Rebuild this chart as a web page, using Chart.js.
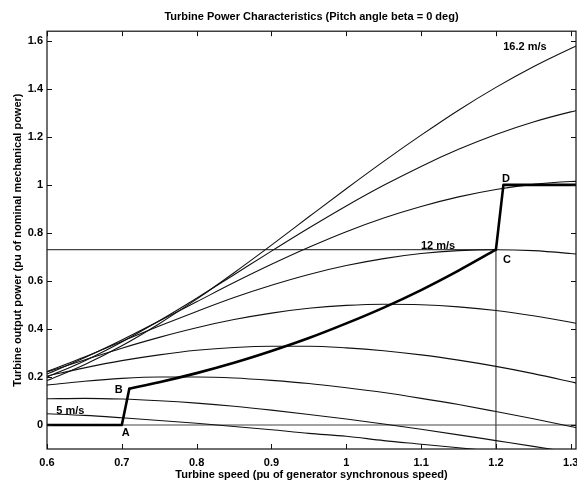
<!DOCTYPE html>
<html>
<head>
<meta charset="utf-8">
<script src="https://cdn.jsdelivr.net/npm/chart.js@4.4.1/dist/chart.umd.min.js"></script>
<style>
html,body{margin:0;padding:0;background:#fff;overflow:hidden}
#wrap{width:577px;height:482px;position:relative}
</style>
</head>
<body>
<div id="wrap"><canvas id="c" width="577" height="482"></canvas></div>
<script>
// ---- data ----
const omega = [0.6, 0.65, 0.7, 0.75, 0.8, 0.85, 0.9, 0.95, 1.0, 1.05, 1.1, 1.15, 1.2, 1.25, 1.3, 1.31];
const p16_2 = [0.185, 0.251, 0.330, 0.422, 0.524, 0.634, 0.749, 0.867, 0.984, 1.098, 1.207, 1.311, 1.406, 1.492, 1.568, 1.582];
const p14_8 = [0.199, 0.267, 0.346, 0.434, 0.528, 0.626, 0.724, 0.820, 0.912, 0.998, 1.077, 1.148, 1.210, 1.262, 1.304, 1.311];
const p13_4 = [0.212, 0.280, 0.354, 0.433, 0.513, 0.593, 0.669, 0.740, 0.805, 0.862, 0.910, 0.950, 0.981, 1.002, 1.014, 1.015];
const p12   = [0.222, 0.283, 0.348, 0.412, 0.473, 0.531, 0.582, 0.627, 0.664, 0.693, 0.714, 0.726, 0.730, 0.726, 0.714, 0.711];
const p10_6 = [0.221, 0.271, 0.320, 0.365, 0.405, 0.439, 0.466, 0.486, 0.498, 0.503, 0.501, 0.492, 0.477, 0.455, 0.428, 0.422];
const p9_2  = [0.204, 0.238, 0.268, 0.292, 0.311, 0.323, 0.328, 0.328, 0.321, 0.309, 0.292, 0.270, 0.244, 0.214, 0.180, 0.173];
const p7_8  = [0.166, 0.182, 0.194, 0.200, 0.200, 0.196, 0.186, 0.173, 0.155, 0.135, 0.111, 0.085, 0.056, 0.026, -0.006, -0.013];
const p6_4  = [0.109, 0.111, 0.108, 0.101, 0.091, 0.078, 0.062, 0.044, 0.025, 0.004, -0.018, -0.041, -0.065, -0.089, -0.114, -0.119];
const p5    = [0.047, 0.040, 0.030, 0.019, 0.007, -0.006, -0.020, -0.035, -0.047, -0.065, -0.080, -0.095, -0.110, -0.125, null, null];

// tracking characteristic A-B-C-D
const trackLowX   = [0.6, 0.7, 0.71];
const trackLowY   = [0, 0, 0.151];
const trackMidX   = [0.71, 0.75, 0.8, 0.85, 0.9, 0.95, 1.0, 1.05, 1.1, 1.15, 1.2];
const trackMidY   = [0.151, 0.178, 0.216, 0.259, 0.308, 0.362, 0.423, 0.489, 0.562, 0.643, 0.73];
const trackHighX  = [1.2, 1.21, 1.31];
const trackHighY  = [0.73, 1.0, 1.0];

// reference lines
const baseLineX = [0.6, 1.2];   const baseLineY = [0.73, 0.73];
const baseVertX = [1.2, 1.2];   const baseVertY = [0.73, -0.1];
const zeroLineX = [0.6, 1.31];  const zeroLineY = [0, 0];

// ticks
const xTicks = [0.6, 0.7, 0.8, 0.9, 1.0, 1.1, 1.2, 1.3];
const xTickLabels = ['0.6', '0.7', '0.8', '0.9', '1', '1.1', '1.2', '1.3'];
const yTicks = [0, 0.2, 0.4, 0.6, 0.8, 1.0, 1.2, 1.4, 1.6];
const yTickLabels = ['0', '0.2', '0.4', '0.6', '0.8', '1', '1.2', '1.4', '1.6'];

// text annotations (data coordinates)
const noteText = ['5 m/s', '12 m/s', '16.2 m/s', 'A', 'B', 'C', 'D'];
const noteX    = [0.6313, 1.1227, 1.2387, 0.7053, 0.696, 1.2147, 1.2133];
const noteY    = [0.058, 0.744, 1.575, -0.033, 0.145, 0.688, 1.024];

const titleText = 'Turbine Power Characteristics (Pitch angle beta = 0 deg)';
const xTitle = 'Turbine speed (pu of generator synchronous speed)';
const yTitle = 'Turbine output power (pu of nominal mechanical power)';

// ---- build ----
function pts(xs, ys) {
  const out = [];
  for (let i = 0; i < xs.length; i++) if (ys[i] !== null) out.push({x: xs[i], y: ys[i]});
  return out;
}
const FONT = "'Liberation Sans', Arial, Helvetica, sans-serif";

const thin = (label, ys) => ({
  label, data: pts(omega, ys), borderColor: '#111', borderWidth: 1.1,
  pointRadius: 0, fill: false, cubicInterpolationMode: 'monotone', clip: 0
});
const ref = (label, xs, ys) => ({
  label, data: pts(xs, ys), borderColor: '#444', borderWidth: 1.2,
  pointRadius: 0, fill: false, tension: 0, clip: 0
});
const thick = (label, xs, ys, smooth) => ({
  label, data: pts(xs, ys), borderColor: '#000', borderWidth: 2.6,
  pointRadius: 0, fill: false, tension: 0, clip: 0,
  cubicInterpolationMode: smooth ? 'monotone' : 'default',
  borderCapStyle: 'round', borderJoinStyle: 'round'
});

const datasets = [
  thick('track low', trackLowX, trackLowY, false),
  thick('track mid', trackMidX, trackMidY, true),
  thick('track high', trackHighX, trackHighY, false),
  thin('16.2 m/s', p16_2), thin('14.8 m/s', p14_8), thin('13.4 m/s', p13_4),
  thin('12 m/s', p12), thin('10.6 m/s', p10_6), thin('9.2 m/s', p9_2),
  thin('7.8 m/s', p7_8), thin('6.4 m/s', p6_4), thin('5 m/s', p5),
  ref('base power', baseLineX, baseLineY),
  ref('base speed', baseVertX, baseVertY),
  ref('zero', zeroLineX, zeroLineY)
];

const framePlugin = {
  id: 'frame',
  afterDatasetsDraw(chart) {
    const {ctx, chartArea: a, scales: {x, y}} = chart;
    ctx.save();
    ctx.strokeStyle = '#111';
    ctx.lineWidth = 1.2;
    ctx.strokeRect(a.left, a.top, a.right - a.left, a.bottom - a.top);
    ctx.beginPath();
    xTicks.forEach(v => {
      const px = Math.round(x.getPixelForValue(v)) + 0.5;
      ctx.moveTo(px, a.bottom); ctx.lineTo(px, a.bottom - 5);
      ctx.moveTo(px, a.top); ctx.lineTo(px, a.top + 5);
    });
    yTicks.forEach(v => {
      const py = Math.round(y.getPixelForValue(v)) + 0.5;
      ctx.moveTo(a.left, py); ctx.lineTo(a.left + 5, py);
      ctx.moveTo(a.right, py); ctx.lineTo(a.right - 5, py);
    });
    ctx.lineWidth = 1;
    ctx.stroke();
    // annotations
    ctx.fillStyle = '#000';
    ctx.font = 'bold 11px ' + FONT;
    ctx.textAlign = 'center';
    ctx.textBaseline = 'middle';
    noteText.forEach((t, i) => {
      ctx.fillText(t, x.getPixelForValue(noteX[i]), y.getPixelForValue(noteY[i]));
    });
    ctx.restore();
  }
};

new Chart(document.getElementById('c'), {
  type: 'line',
  data: { datasets },
  options: {
    responsive: false,
    devicePixelRatio: 1,
    animation: false,
    events: [],
    layout: { padding: { left: 0, right: 1, top: 0, bottom: 0 } },
    plugins: {
      legend: { display: false },
      tooltip: { enabled: false },
      title: {
        display: true, text: titleText, color: '#000', fullSize: false,
        font: { family: FONT, size: 11, weight: 'bold' },
        padding: { top: 10, bottom: 8 }
      }
    },
    scales: {
      x: {
        type: 'linear', min: 0.6, max: 1.307,
        afterBuildTicks(s) { s.ticks = xTicks.map(v => ({value: v})); },
        afterFit(s) { s.height = 33; s.paddingLeft = 0; s.paddingRight = 0; },
        grid: { display: false, drawTicks: false },
        border: { display: false },
        ticks: {
          color: '#000', padding: 7, maxRotation: 0, autoSkip: false,
          font: { family: FONT, size: 11, weight: 'bold' },
          callback: (v) => { const i = xTicks.findIndex(t => Math.abs(t - v) < 1e-9); return i >= 0 ? xTickLabels[i] : ''; }
        },
        title: {
          display: true, text: xTitle, color: '#000',
          font: { family: FONT, size: 11, weight: 'bold' },
          padding: { top: 0, bottom: 0 }
        }
      },
      y: {
        type: 'linear', min: -0.1, max: 1.64,
        afterBuildTicks(s) { s.ticks = yTicks.map(v => ({value: v})); },
        afterFit(s) { s.width = 47; s.paddingTop = 0; s.paddingBottom = 0; },
        grid: { display: false, drawTicks: false },
        border: { display: false },
        ticks: {
          color: '#000', padding: 4, autoSkip: false,
          font: { family: FONT, size: 11, weight: 'bold' },
          callback: (v) => { const i = yTicks.findIndex(t => Math.abs(t - v) < 1e-9); return i >= 0 ? yTickLabels[i] : ''; }
        },
        title: {
          display: true, text: yTitle, color: '#000',
          font: { family: FONT, size: 11, weight: 'bold' },
          padding: { top: 11, bottom: 0 }
        }
      }
    }
  },
  plugins: [framePlugin]
});
</script>
</body>
</html>
